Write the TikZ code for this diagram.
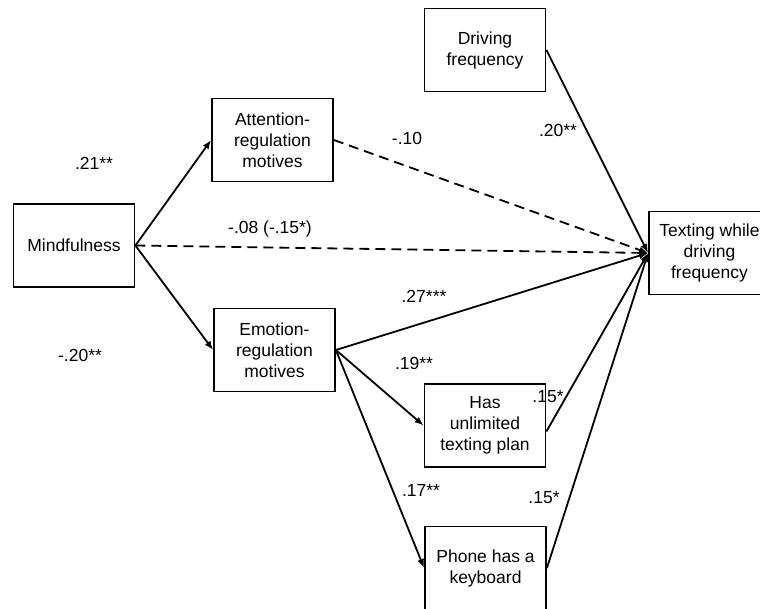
\documentclass[tikz,border=0pt]{standalone}
\usepackage{fontspec}
\setmainfont{Liberation Sans}
\usepackage{xcolor}
\usepackage{tikz}
\usetikzlibrary{arrows.meta}

\begin{document}
\begin{tikzpicture}[every text node part/.style={align=center}, x = 1pt, y = -1pt]
			\tikzstyle{var} = [draw, rectangle, line width = 1.8pt, minimum width = 121pt, minimum height = 83pt, inner sep = 0pt, font = \fontsize{17.5}{21}\selectfont]
			\tikzstyle{coef} = [font = \fontsize{17.5}{21}\selectfont, inner sep = 1pt]
			\tikzstyle{path} = [line width = 1.8pt, -{Latex[length = 9pt, width = 7pt]}]
			\tikzstyle{ns} = [dash pattern = on 10pt off 6pt]
			\path[use as bounding box, clip] (0, 0) rectangle (760, 608);

			\path (74, 245.5) node[var] (mind) {Mindfulness};
			\path (272.5, 140) node[var] (att) {Attention-\\regulation\\motives};
			\path (274.5, 350) node[var] (emo) {Emotion-\\regulation\\motives};
			\path (485, 50) node[var] (drive) {Driving\\frequency};
			\path (709.5, 253) node[var] (text) {Texting while\\driving\\frequency};
			\path (485, 425.5) node[var] (plan) {Has\\unlimited\\texting plan};
			\path (485.5, 568) node[var] (keyb) {Phone has a\\keyboard};

			\path (94, 163) node[coef] (c-ma) {.21**};
			\path (80, 355) node[coef] (c-me) {-.20**};
			\path (270, 229) node[coef] (c-mt) {-.08 (-.15*)};
			\path (407, 138) node[coef] (c-at) {-.10};
			\path (558, 130) node[coef] (c-dt) {.20**};
			\path (424, 296) node[coef] (c-et) {.27***};
			\path (414, 363) node[coef] (c-ep) {.19**};
			\path (548, 397) node[coef] (c-pt) {.15*};
			\path (421, 490) node[coef] (c-ek) {.17**};
			\path (544, 498) node[coef] (c-kt) {.15*};

			\path[draw, path] (mind.east) -- (att.west);
			\path[draw, path] (mind.east) -- (emo.west);
			\path[draw, path, ns] (mind.east) -- (text.west);
			\path[draw, path, ns] (att.east) -- (text.west);

			\path[draw, path] (drive.east) -- (text.west);
			\path[draw, path] (emo.east) -- (text.west);
			\path[draw, path] (emo.east) -- (plan.west);
			\path[draw, path] (emo.east) -- (keyb.west);

			\path[draw, path] ([yshift = -6pt]plan.east) -- (text.west);
			\path[draw, path] (keyb.east) -- (text.west);
		\end{tikzpicture}
\end{document}
